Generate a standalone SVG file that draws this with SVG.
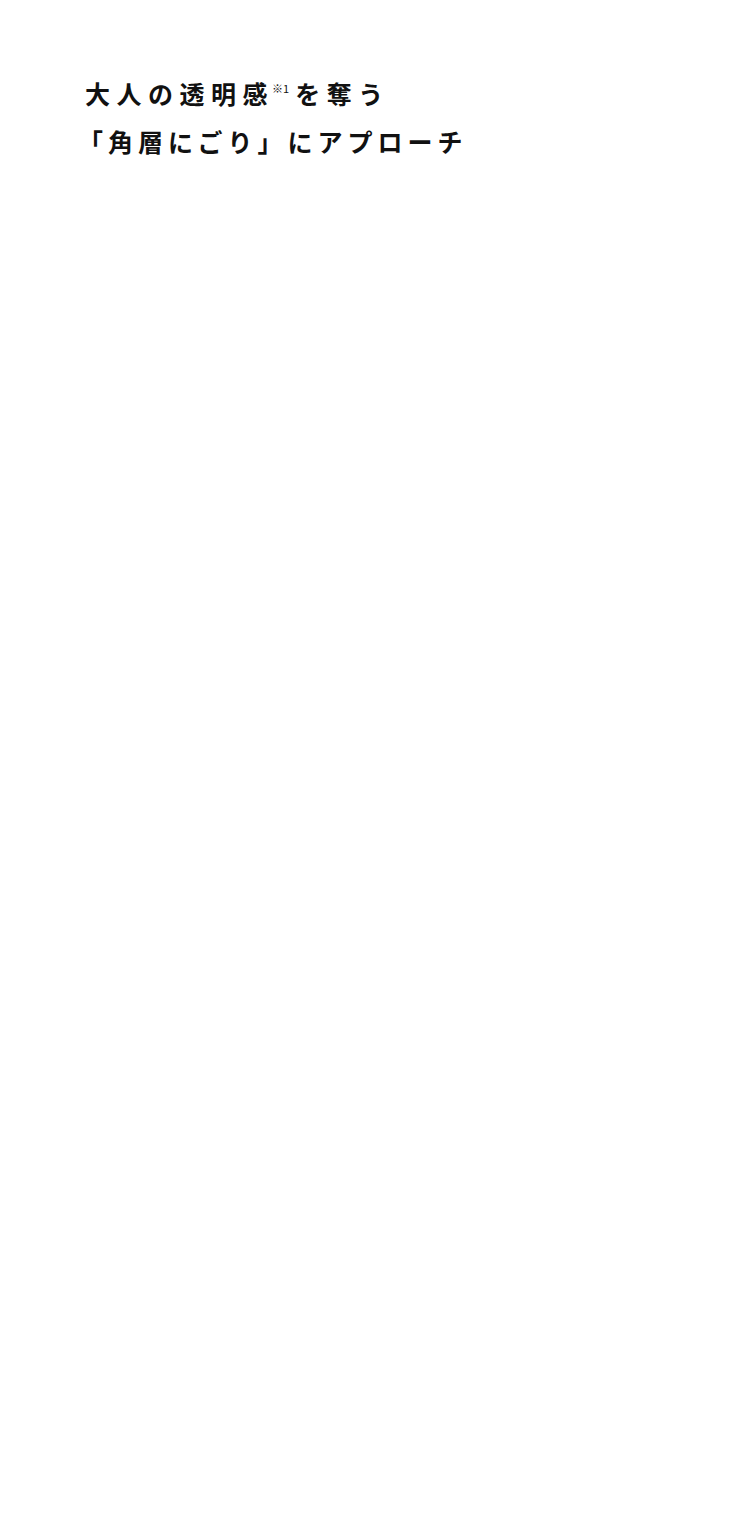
<svg xmlns="http://www.w3.org/2000/svg" width="750" height="1529" viewBox="0 0 750 1529"><style>.t{font-family:"Noto Sans CJK JP","Noto Sans",sans-serif;font-weight:bold;font-size:25px;letter-spacing:5px;fill:#111}.w{letter-spacing:6.5px}.s{font-size:11px;letter-spacing:0;font-weight:normal}</style><rect width="750" height="1529" fill="#fff"/><g id="title"><text class="t w" x="85" y="104">大人の透明感<tspan class="s" dx="-2" dy="-11">※1</tspan><tspan dy="11" dx="6">を奪う</tspan></text><text class="t" x="78" y="152">「角層にごり」にアプローチ</text></g></svg>
